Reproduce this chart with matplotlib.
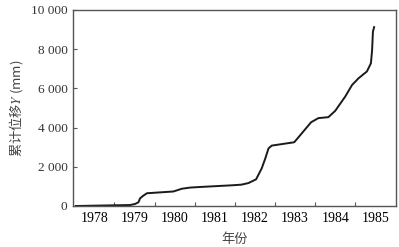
import numpy as np
import matplotlib
matplotlib.use("Agg")
import matplotlib.pyplot as plt

# cumulative displacement (decimal year, mm)
years = [1978.04, 1979.39, 1979.51, 1979.60, 1979.64, 1979.71, 1979.81, 1980.47,
         1980.68, 1980.89, 1981.14, 1981.97, 1982.17, 1982.34, 1982.53, 1982.67,
         1982.76, 1982.84, 1982.92, 1983.48, 1983.67, 1983.90, 1984.08, 1984.33,
         1984.50, 1984.75, 1984.92, 1985.08, 1985.29, 1985.39, 1985.42, 1985.44,
         1985.47]
disp = [0, 50, 100, 190, 390, 510, 650, 740,
        880, 940, 970, 1060, 1090, 1170, 1360, 1920,
        2430, 2940, 3080, 3250, 3710, 4270, 4480, 4530,
        4850, 5580, 6170, 6510, 6860, 7280, 7960, 8890,
        9120]

year_labels = ["1978", "1979", "1980", "1981", "1982", "1983", "1984", "1985"]
y_ticks = [0, 2000, 4000, 6000, 8000, 10000]
y_labels = ["0", "2 000", "4 000", "6 000", "8 000", "10 000"]

plt.rcParams["font.family"] = ["Liberation Serif", "Noto Sans CJK SC"]
plt.rcParams["mathtext.fontset"] = "stix"

fig = plt.figure(figsize=(3.99, 2.47), dpi=100)
ax = fig.add_axes([0.183, 0.166, 0.809, 0.794])

ax.plot(years, disp, color="#1a1a1a", lw=1.4)

ax.set_xlim(1977.97, 1986.01)
ax.set_ylim(0, 10000)

# tick marks at year boundaries, labels centred in each year
ax.set_xticks(np.arange(1979, 1986))
ax.set_xticklabels([])
ax.set_xticks(np.arange(1978.5, 1986, 1.0), minor=True)
ax.set_xticklabels(year_labels, minor=True)
ax.tick_params(axis="x", which="major", direction="in", length=3, color="#555555")
ax.tick_params(axis="x", which="minor", length=0, pad=4)

ax.set_yticks(y_ticks)
ax.set_yticklabels(y_labels)
ax.tick_params(axis="y", direction="in", length=3, color="#555555", pad=4)

ax.tick_params(labelsize=9.5, labelcolor="#333333")

for s in ax.spines.values():
    s.set_color("#555555")
    s.set_linewidth(1.0)

ax.set_xlabel("年份", family=["Noto Sans CJK SC"], fontsize=9.5, color="#444444", labelpad=6)
ax.set_ylabel("累计位移$Y$ (mm)", family=["Noto Sans CJK SC", "DejaVu Sans"],
              fontsize=9.5, color="#444444", labelpad=4)

fig.savefig("out.png", dpi=100)
